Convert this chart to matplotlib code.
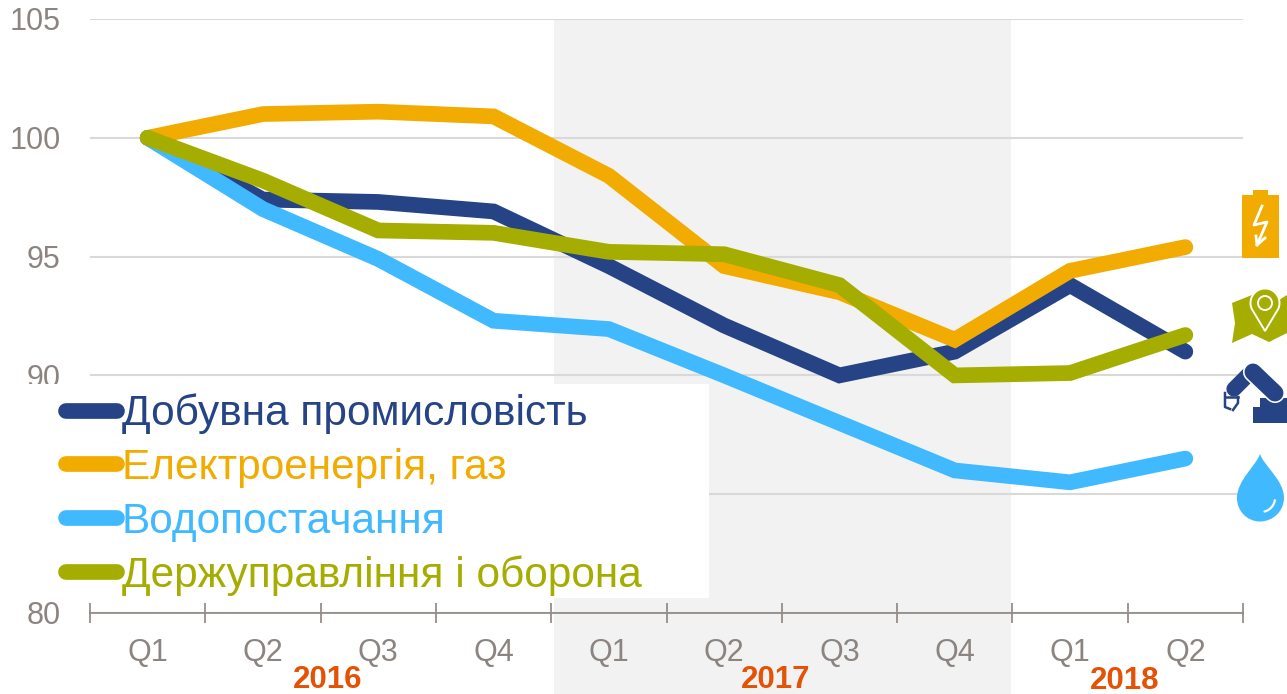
# -*- coding: utf-8 -*-
import numpy as np
from matplotlib import pyplot as plt
from matplotlib.patches import Circle, Polygon, Rectangle, PathPatch
from matplotlib.path import Path
from matplotlib.transforms import blended_transform_factory

plt.rcParams['font.family'] = ['Liberation Sans', 'DejaVu Sans']

quarters = ['Q1', 'Q2', 'Q3', 'Q4', 'Q1', 'Q2', 'Q3', 'Q4', 'Q1', 'Q2']
years = ['2016', '2017', '2018']
year_pos = [2.06, 5.95, 8.97]
y_ticks = [80, 85, 90, 95, 100, 105]
y_labels = ['80', '', '90', '95', '100', '105']

mining = [100, 97.4, 97.3, 96.9, 94.6, 92.1, 90.0, 91.0, 93.8, 91.0]
energy = [100, 101.0, 101.1, 100.9, 98.4, 94.6, 93.5, 91.5, 94.4, 95.4]
water = [100, 97.0, 94.9, 92.3, 91.95, 90.0, 88.0, 86.0, 85.5, 86.5]
gov = [100, 98.2, 96.1, 96.0, 95.2, 95.1, 93.8, 90.0, 90.1, 91.7]

names = ['Добувна промисловість', 'Електроенергія, газ', 'Водопостачання', 'Держуправління і оборона']
colors = ['#264385', '#f2ab00', '#41b9ff', '#a5ad00']
GREY = '#8c8480'
W, H = 1287, 694

fig = plt.figure(figsize=(W / 100, H / 100), dpi=100)
ax = fig.add_axes([90 / W, 1 - 613 / H, (1243 - 90) / W, (613 - 19) / H])
ax.set_xlim(0, 10)
ax.set_ylim(80, 105)

# shaded year goes down past the axis
ax.axvspan(4.02, 7.99, ymin=-81 / 594, ymax=1, color='#f2f2f2', lw=0, clip_on=False, zorder=0)
ax.set_yticks(y_ticks, y_labels)
ax.grid(axis='y', color='#d9d9d9', lw=1.5, zorder=1)
ax.set_axisbelow(True)
ax.tick_params(axis='y', length=0, pad=21, labelsize=22, labelcolor=GREY)

x = np.arange(10) + 0.5
handles = []
for vals, c, z in zip([mining, energy, water, gov], colors, [3, 4, 5, 6]):
    line, = ax.plot(x, vals, color=c, lw=11.3, solid_capstyle='round', solid_joinstyle='miter', zorder=z)
    handles.append(line)

for s in ['top', 'right', 'left']:
    ax.spines[s].set_visible(False)
ax.spines['bottom'].set_color(GREY)
ax.spines['bottom'].set_linewidth(1.2)
ax.set_xticks(np.arange(11), [''] * 11)
ax.tick_params(axis='x', which='major', direction='inout', length=14.5, width=1.2, color=GREY)
ax.set_xticks(x, quarters, minor=True)
ax.tick_params(axis='x', which='minor', length=0, pad=18, labelsize=22, labelcolor=GREY)

trans = blended_transform_factory(ax.transData, fig.transFigure)
for yr, p, yy in zip(years, year_pos, [688, 688, 689]):
    ax.text(p, 1 - yy / H, yr, transform=trans, ha='center', va='baseline', fontsize=22.5,
            fontweight='bold', color='#e35205')

# overlay in pixel coordinates for legend box and icons
ov = fig.add_axes([0, 0, 1, 1], zorder=5)
ov.set_xlim(0, W)
ov.set_ylim(H, 0)
ov.axis('off')
ov.patch.set_alpha(0)
ov.add_patch(Rectangle((0, 384), 709, 214, fc='white', ec='none', zorder=1))
leg = ov.legend(handles, names, loc='upper left', bbox_to_anchor=(53 / W, 1 - 381 / H), frameon=False,
                fontsize=30.5, labelcolor='linecolor', handlelength=1.2, handletextpad=0.12,
                labelspacing=0.32, borderpad=0.3, borderaxespad=0)
leg.set_zorder(2)

# battery
ov.add_patch(Rectangle((1242, 195), 37, 63, fc=colors[1], ec='none'))
ov.add_patch(Rectangle((1253, 190), 15, 5, fc=colors[1], ec='none'))
ov.plot([1262, 1254, 1267, 1257], [206, 225, 222, 245], color='white', lw=2)
ov.plot([1256, 1257, 1265], [236, 245, 238], color='white', lw=2)

# map with pin
ov.add_patch(Polygon([(1232, 303), (1252, 295), (1265, 300), (1279, 300), (1287, 295), (1287, 333),
                      (1269, 342), (1252, 334), (1232, 343), (1235, 323)], fc=colors[3], ec='none'))
t = np.linspace(0.87 * np.pi, 2.13 * np.pi, 40)
pin = [(1265, 331)] + list(zip(1265 + 14.5 * np.cos(t), 303 + 14.5 * np.sin(t)))
ov.add_patch(Polygon(pin, fc=colors[3], ec='white', lw=1.4))
ov.add_patch(Circle((1265, 303), 7, fc=colors[3], ec='white', lw=1.4))

# robot arm
ov.add_patch(Rectangle((1253, 407), 34, 16, fc=colors[0], ec='none'))
ov.add_patch(Rectangle((1260, 398), 27, 10, fc=colors[0], ec='none'))
ov.plot([1248, 1234], [375, 389], color=colors[0], lw=11, solid_capstyle='round', zorder=2)
ov.plot([1253, 1275], [372, 393], color='white', lw=14.5, solid_capstyle='round', zorder=3)
ov.plot([1253, 1275], [372, 393], color=colors[0], lw=12.2, solid_capstyle='round', zorder=4)
ov.plot([1225, 1225, 1230], [393, 407, 409], color=colors[0], lw=1.8)
ov.plot([1225, 1238], [397, 397], color=colors[0], lw=1.8)
ov.plot([1238, 1238, 1233], [397, 403, 410], color=colors[0], lw=1.8)

# water drop
k = 13
drop = Path([(1260, 454), (1264, 466), (1284, 480), (1284, 498),
             (1284, 498 + k), (1273, 521.5), (1260, 521.5),
             (1247, 521.5), (1237, 498 + k), (1237, 498),
             (1237, 480), (1256, 466), (1260, 454)],
            [Path.MOVETO] + [Path.CURVE4] * 12)
ov.add_patch(PathPatch(drop, fc=colors[2], ec='none'))
a = np.linspace(0.05 * np.pi, 0.42 * np.pi, 12)
ov.plot(1261 + 14 * np.cos(a), 498 + 14 * np.sin(a), color='white', lw=1.6, solid_capstyle='round')

fig.savefig('out.png', dpi=100)
